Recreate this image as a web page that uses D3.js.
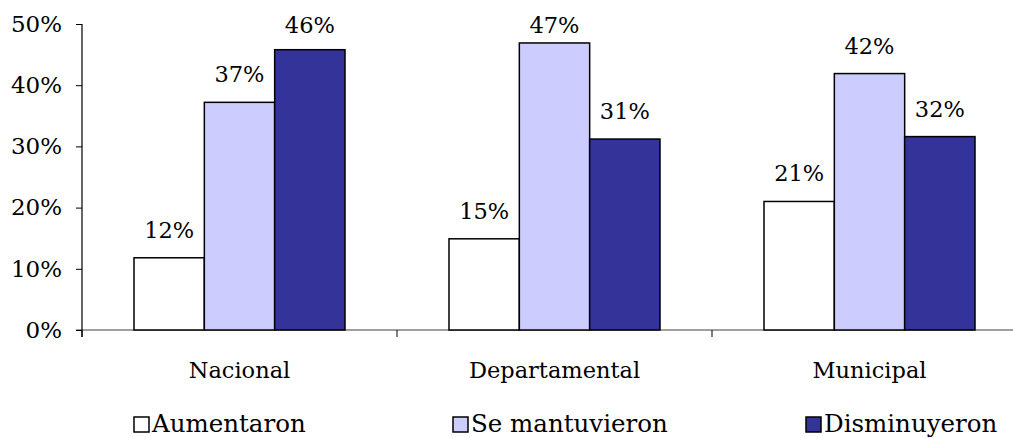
<!DOCTYPE html>
<html>
<head>
<meta charset="utf-8">
<script src="https://cdn.jsdelivr.net/npm/d3@7"></script>
<style>
  body { margin: 0; background: #fff; }
  svg { display: block; font-family: "DejaVu Serif", serif; }
</style>
</head>
<body>
<div id="chart"></div>
<script>
// datos
var categorias = ["Nacional", "Departamental", "Municipal"];
var series = ["Aumentaron", "Se mantuvieron", "Disminuyeron"];
var aumentaron = [0.118, 0.149, 0.210];
var seMantuvieron = [0.372, 0.469, 0.419];
var disminuyeron = [0.458, 0.312, 0.316];
var ticksY = [0, 0.1, 0.2, 0.3, 0.4, 0.5];
var colores = ["#ffffff", "#ccccff", "#333399"];

var width = 1013;
var height = 438;
var fontSize = 22.5;

var valores = [aumentaron, seMantuvieron, disminuyeron];

var svg = d3
  .select("#chart")
  .append("svg")
  .attr("width", width)
  .attr("height", height);

var x = d3.scaleBand().domain(categorias).range([82, 1027]).padding(0);
var xs = d3
  .scaleBand()
  .domain(series)
  .range([52, x.bandwidth() - 52])
  .padding(0);
var y = d3.scaleLinear().domain([0, 0.5]).range([330, 24]);

var fmt = d3.format(".0%");

// eje X
svg
  .append("line")
  .attr("x1", 76)
  .attr("x2", width)
  .attr("y1", y(0))
  .attr("y2", y(0))
  .attr("stroke", "#808080")
  .attr("stroke-width", 1.5);

svg
  .append("g")
  .selectAll("line")
  .data(categorias.concat(["fin"]))
  .enter()
  .append("line")
  .attr("x1", function (d, i) { return x.range()[0] + i * x.bandwidth(); })
  .attr("x2", function (d, i) { return x.range()[0] + i * x.bandwidth(); })
  .attr("y1", y(0))
  .attr("y2", y(0) + 7)
  .attr("stroke", "#000")
  .attr("stroke-width", 1);

svg
  .append("g")
  .selectAll("text")
  .data(categorias)
  .enter()
  .append("text")
  .attr("x", function (d) { return x(d) + x.bandwidth() / 2; })
  .attr("y", 378)
  .attr("text-anchor", "middle")
  .attr("font-size", fontSize)
  .attr("fill", "#000")
  .text(function (d) { return d; });

// eje Y
var ejeY = svg
  .append("g")
  .attr("transform", "translate(82,0)")
  .call(
    d3.axisLeft(y).tickValues(ticksY).tickFormat(fmt).tickSize(6).tickPadding(14)
  );
ejeY.select(".domain").attr("stroke", "#000").attr("stroke-width", 1.2).attr("d", "M0,24V337");
ejeY.selectAll(".tick line").attr("stroke", "#000");
ejeY
  .selectAll(".tick text")
  .attr("font-family", "DejaVu Serif")
  .attr("font-size", 23)
  .attr("fill", "#000");

// barras
var grupos = svg
  .append("g")
  .selectAll("g")
  .data(categorias)
  .enter()
  .append("g")
  .attr("transform", function (d) { return "translate(" + x(d) + ",0)"; });

grupos
  .selectAll("rect")
  .data(function (d, ci) {
    return series.map(function (s, si) {
      return { serie: s, i: si, valor: valores[si][ci] };
    });
  })
  .enter()
  .append("rect")
  .attr("x", function (d) { return xs(d.serie); })
  .attr("width", xs.bandwidth())
  .attr("y", function (d) { return y(d.valor); })
  .attr("height", function (d) { return y(0) - y(d.valor); })
  .attr("fill", function (d) { return colores[d.i]; })
  .attr("stroke", "#000")
  .attr("stroke-width", 1.5);

grupos
  .selectAll("text.valor")
  .data(function (d, ci) {
    return series.map(function (s, si) {
      return { serie: s, i: si, valor: valores[si][ci] };
    });
  })
  .enter()
  .append("text")
  .attr("class", "valor")
  .attr("x", function (d) { return xs(d.serie) + xs.bandwidth() / 2; })
  .attr("y", function (d) { return Math.max(y(d.valor) - 20, 33); })
  .attr("text-anchor", "middle")
  .attr("font-size", fontSize)
  .attr("fill", "#000")
  .text(function (d) { return fmt(d.valor); });

// leyenda
var legendX = [134, 453, 806];
var leyenda = svg
  .append("g")
  .selectAll("g")
  .data(series)
  .enter()
  .append("g")
  .attr("transform", function (d, i) { return "translate(" + legendX[i] + ",417)"; });

leyenda
  .append("rect")
  .attr("width", 15)
  .attr("height", 15)
  .attr("fill", function (d, i) { return colores[i]; })
  .attr("stroke", "#000")
  .attr("stroke-width", 1.5);

leyenda
  .append("text")
  .attr("x", 18)
  .attr("y", 15)
  .attr("font-size", 24.5)
  .attr("fill", "#000")
  .text(function (d) { return d; });
</script>
</body>
</html>
